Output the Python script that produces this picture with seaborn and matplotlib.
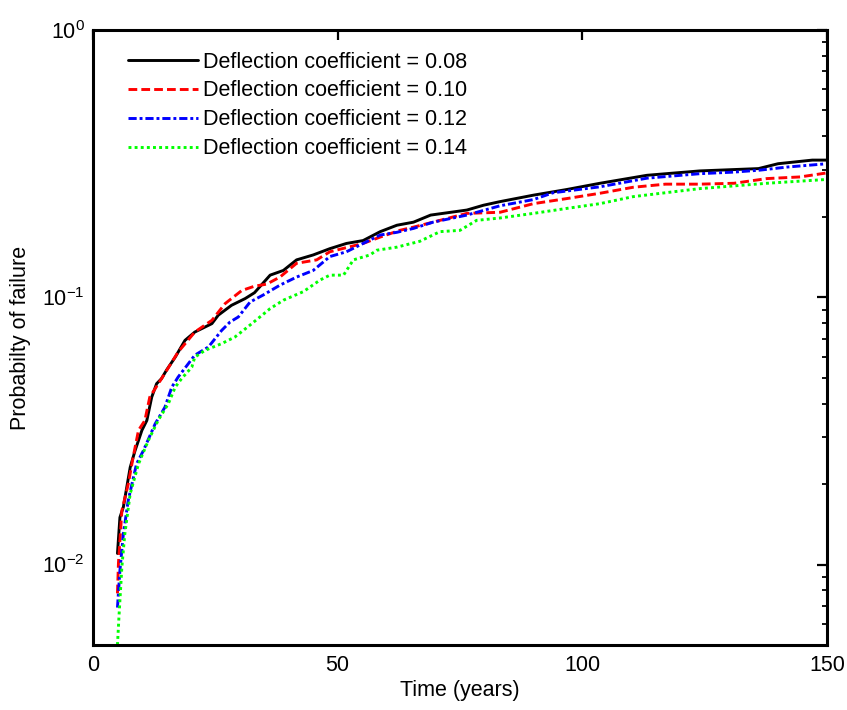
import numpy as np
import pandas as pd
import matplotlib
matplotlib.use("Agg")
import matplotlib.pyplot as plt
import seaborn as sns

# ---- data ----
x_008 = [5, 5.5, 6.2, 7.6, 8.6, 10, 11, 12, 13, 14, 15, 16.8, 18.8, 20.8, 24.3, 25.6, 28.3,
         31.1, 33, 36.2, 38.9, 41.6, 45, 48.4, 51.8, 55.2, 58.7, 62.1, 65.5, 69, 76.4, 79.8,
         83.2, 90, 96.8, 103.6, 113.2, 124, 136, 140, 147, 150]
y_008 = [0.011, 0.015, 0.0164, 0.0231, 0.0267, 0.0318, 0.0346, 0.0423, 0.0475, 0.0496, 0.0533,
         0.0597, 0.069, 0.0741, 0.0797, 0.0857, 0.0933, 0.0989, 0.104, 0.121, 0.126, 0.138,
         0.144, 0.152, 0.159, 0.163, 0.176, 0.186, 0.191, 0.203, 0.212, 0.221, 0.228, 0.241,
         0.253, 0.267, 0.286, 0.297, 0.303, 0.316, 0.326, 0.326]

x_010 = [5, 5.2, 5.9, 7.2, 8.2, 9.3, 10.6, 11.6, 14, 17.4, 20.8, 24.3, 27, 30.4, 33, 35.5,
         38.2, 41.6, 45.7, 48.4, 55.2, 58.7, 62.7, 65.5, 69, 76.4, 83.2, 90, 96.8, 103.6,
         110.4, 117, 124, 131, 137.7, 144.5, 150]
y_010 = [0.0078, 0.0101, 0.0159, 0.020, 0.0252, 0.0318, 0.0346, 0.0423, 0.0496, 0.0624,
         0.0741, 0.082, 0.0947, 0.106, 0.11, 0.112, 0.119, 0.134, 0.138, 0.148, 0.159, 0.168,
         0.178, 0.183, 0.19, 0.206, 0.208, 0.224, 0.234, 0.245, 0.258, 0.265, 0.265, 0.267,
         0.278, 0.282, 0.292]

x_012 = [5, 5.5, 6.2, 7.2, 8.9, 10.3, 12.7, 14.7, 16.1, 17.4, 20.8, 23.6, 26.3, 28, 29.7,
         32.1, 34.8, 38.2, 41.6, 45, 48.4, 51.8, 55.2, 58.7, 62.1, 65.5, 69.5, 76.4, 83.2,
         90, 94, 103.6, 113.2, 124, 131, 136.3, 141.8, 150]
y_012 = [0.0069, 0.0095, 0.013, 0.0174, 0.0238, 0.0267, 0.0336, 0.0388, 0.0461, 0.0503,
         0.0607, 0.0652, 0.0752, 0.0808, 0.0844, 0.096, 0.102, 0.111, 0.119, 0.126, 0.142,
         0.148, 0.159, 0.171, 0.175, 0.181, 0.191, 0.203, 0.22, 0.232, 0.246, 0.259, 0.279,
         0.29, 0.294, 0.299, 0.307, 0.316]

x_014 = [5, 5.3, 5.9, 6.5, 7.6, 9.3, 11.3, 13.3, 15.4, 16.8, 18.1, 20.2, 20.8, 22.9, 26.3,
         29, 32.2, 36.2, 38.9, 43, 46.4, 48.4, 51.2, 53.2, 56.6, 58, 62.1, 66.8, 70.9, 75,
         78.4, 83.2, 90, 96.8, 103.6, 110.4, 124, 137.7, 150]
y_014 = [0.005, 0.00635, 0.0098, 0.013, 0.0184, 0.0238, 0.0291, 0.0346, 0.040, 0.0461,
         0.0496, 0.0548, 0.0597, 0.0633, 0.0671, 0.071, 0.079, 0.0907, 0.0975, 0.105, 0.116,
         0.121, 0.121, 0.138, 0.144, 0.150, 0.154, 0.162, 0.176, 0.178, 0.194, 0.198, 0.206,
         0.215, 0.224, 0.238, 0.255, 0.267, 0.276]

labels = ["Deflection coefficient = 0.08", "Deflection coefficient = 0.10",
          "Deflection coefficient = 0.12", "Deflection coefficient = 0.14"]
x_ticks = [0, 50, 100, 150]
x_label = "Time (years)"
y_label = "Probabilty of failure"

series = [(x_008, y_008), (x_010, y_010), (x_012, y_012), (x_014, y_014)]
colors = ["#000000", "#ff0000", "#0000ff", "#00ff00"]
styles = ["-", (0, (3, 1.4)), (0, (2.8, 1, 1, 1)), (0, (1, 1.1))]

FS = 15.5

sns.set_style("white")
plt.rcParams["font.family"] = ["Liberation Sans", "DejaVu Sans"]
plt.rcParams["mathtext.fontset"] = "custom"
plt.rcParams["mathtext.rm"] = "Liberation Sans"
plt.rcParams["axes.unicode_minus"] = False
for k in ["text.color", "axes.labelcolor", "xtick.color", "ytick.color"]:
    plt.rcParams[k] = "black"

fig = plt.figure(figsize=(8.47, 7.10), dpi=100)
ax = fig.add_axes([93 / 847, 1 - 645 / 710, (827 - 93) / 847, (645 - 30) / 710])

for (xs, ys), lab, c, ls in zip(series, labels, colors, styles):
    df = pd.DataFrame({"t": xs, "p": ys})
    sns.lineplot(data=df, x="t", y="p", ax=ax, color=c, linestyle=ls, linewidth=2.1,
                 label=lab, estimator=None, sort=False)

ax.set_yscale("log")
ax.set_xlim(0, 150)
ax.set_ylim(0.005, 1)
ax.set_xticks(x_ticks)
ax.set_xticklabels([str(v) for v in x_ticks])
ax.set_xlabel(x_label, fontsize=FS, labelpad=3, color="black")
ax.set_ylabel(y_label, fontsize=FS, labelpad=8, color="black")

for s in ax.spines.values():
    s.set_linewidth(2.2)
    s.set_color("black")
ax.tick_params(which="both", direction="in", top=True, right=True, colors="black",
               labelsize=FS)
ax.tick_params(which="major", length=7, width=1.6)
ax.tick_params(which="minor", length=3.5, width=1.3)
ax.tick_params(axis="x", which="minor", bottom=False, top=False)
ax.tick_params(axis="x", pad=7)
ax.tick_params(axis="y", pad=6)

leg = ax.legend(loc="upper left", frameon=False, fontsize=FS, handlelength=3.25,
                handletextpad=0.25, labelspacing=0.37, borderaxespad=0.0,
                bbox_to_anchor=(0.036, 0.979))
for t in leg.get_texts():
    t.set_color("black")

fig.savefig("out.png", dpi=100, facecolor="white")
